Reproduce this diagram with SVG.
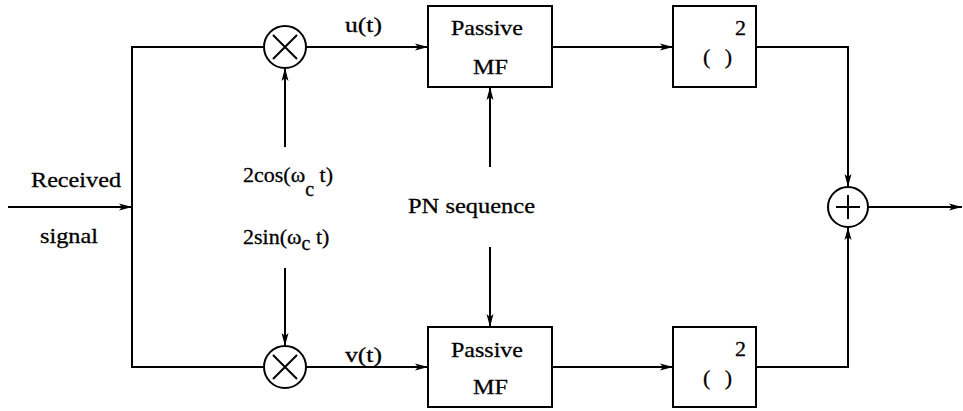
<svg xmlns="http://www.w3.org/2000/svg" width="963" height="411" viewBox="0 0 963 411" font-family="'Liberation Serif', 'Times New Roman', serif" font-size="22">
<defs>
<marker id="arr" markerWidth="14" markerHeight="8" refX="13" refY="4" orient="auto" markerUnits="userSpaceOnUse">
<path d="M0,0.5 L13,4 L0,7.5 L3,4 z" fill="#000"/>
</marker>
<style>
.ln{fill:none;stroke:#000;stroke-width:2}
.bx{fill:#fff;stroke:#000;stroke-width:2}
.tx{fill:#000;stroke:#000;stroke-width:0.3}
</style>
</defs>
<rect width="963" height="411" fill="#fff"/>
<g id="connectors">
<line class="ln" x1="8" y1="207" x2="132" y2="207" marker-end="url(#arr)"/>
<polyline class="ln" points="264,47 132,47 132,367 264,367"/>
<line class="ln" x1="306" y1="47" x2="428" y2="47" marker-end="url(#arr)"/>
<line class="ln" x1="306" y1="367" x2="428" y2="367" marker-end="url(#arr)"/>
<line class="ln" x1="285" y1="147" x2="285" y2="68" marker-end="url(#arr)"/>
<line class="ln" x1="285" y1="268" x2="285" y2="346" marker-end="url(#arr)"/>
<line class="ln" x1="490" y1="167" x2="490" y2="87" marker-end="url(#arr)"/>
<line class="ln" x1="490" y1="247" x2="490" y2="327" marker-end="url(#arr)"/>
<line class="ln" x1="552" y1="47" x2="673" y2="47" marker-end="url(#arr)"/>
<line class="ln" x1="552" y1="367" x2="673" y2="367" marker-end="url(#arr)"/>
<polyline class="ln" points="756,47 848,47 848,187" marker-end="url(#arr)"/>
<polyline class="ln" points="756,367 848,367 848,227" marker-end="url(#arr)"/>
<line class="ln" x1="868" y1="207" x2="962" y2="207" marker-end="url(#arr)"/>
</g>
<g id="mult-top">
<circle class="bx" cx="285" cy="47" r="21"/>
<path class="ln" d="M273,35 L297,59 M297,35 L273,59"/>
</g>
<g id="mult-bottom">
<circle class="bx" cx="285" cy="367" r="21"/>
<path class="ln" d="M273,355 L297,379 M297,355 L273,379"/>
</g>
<g id="mf-top" class="tx">
<rect class="bx" x="428" y="6" width="124" height="81"/>
<text x="451" y="35" textLength="72" lengthAdjust="spacingAndGlyphs">Passive</text>
<text x="473" y="74" textLength="35" lengthAdjust="spacingAndGlyphs">MF</text>
</g>
<g id="mf-bottom" class="tx">
<rect class="bx" x="428" y="327" width="124" height="80"/>
<text x="451" y="357" textLength="72" lengthAdjust="spacingAndGlyphs">Passive</text>
<text x="473" y="394" textLength="35" lengthAdjust="spacingAndGlyphs">MF</text>
</g>
<g id="sq-top" class="tx">
<rect class="bx" x="673" y="6" width="83" height="81"/>
<text x="703" y="64" textLength="29" lengthAdjust="spacing">( )</text>
<text x="735" y="35">2</text>
</g>
<g id="sq-bottom" class="tx">
<rect class="bx" x="673" y="327" width="83" height="80"/>
<text x="703" y="385" textLength="29" lengthAdjust="spacing">( )</text>
<text x="735" y="356">2</text>
</g>
<g id="sum">
<circle class="bx" cx="848" cy="207" r="20"/>
<path class="ln" d="M836,207 L860,207 M848,195 L848,219"/>
</g>
<g id="labels" class="tx">
<text x="31" y="187" textLength="90" lengthAdjust="spacingAndGlyphs">Received</text>
<text x="40" y="243" textLength="58" lengthAdjust="spacingAndGlyphs">signal</text>
<text x="345" y="32" textLength="37" lengthAdjust="spacingAndGlyphs">u(t)</text>
<text x="345" y="362" textLength="37" lengthAdjust="spacingAndGlyphs">v(t)</text>
<text x="243" y="182">2cos(ω<tspan font-size="20" dy="14">c</tspan><tspan dy="-14"> t)</tspan></text>
<text x="243" y="244">2sin(ω<tspan font-size="20" dy="6">c</tspan><tspan dy="-6"> t)</tspan></text>
<text x="408" y="213" textLength="127" lengthAdjust="spacingAndGlyphs">PN sequence</text>
</g>
</svg>
